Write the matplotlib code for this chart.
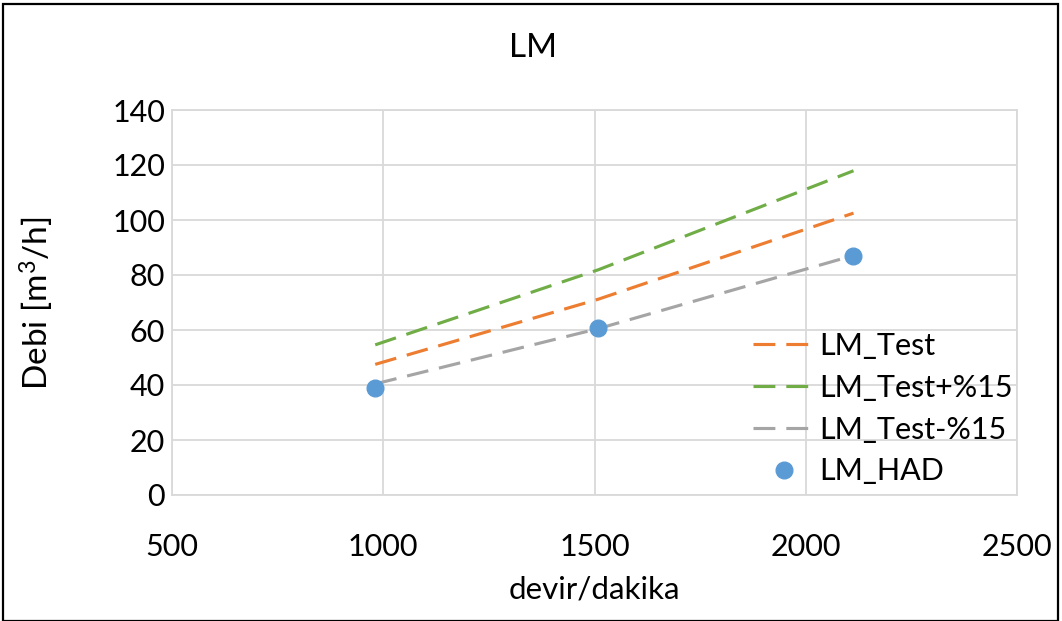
import matplotlib
matplotlib.use("Agg")
import matplotlib.pyplot as plt
from matplotlib.patches import Rectangle

plt.rcParams['font.family'] = ['Lato', 'DejaVu Sans']
plt.rcParams['mathtext.default'] = 'regular'

# data
rpm = [981, 1509, 2113]
lm_test = [47.5, 71.2, 102.5]
lm_plus = [54.6, 81.9, 117.9]
lm_minus = [40.4, 60.5, 87.1]
lm_had = [39.0, 60.7, 86.9]

xticks = [500, 1000, 1500, 2000, 2500]
yticks = [0, 20, 40, 60, 80, 100, 120, 140]

fig = plt.figure(figsize=(10.62, 6.21), dpi=100)
ax = fig.add_axes([172/1062, 1 - 495/621, (1017-172)/1062, (495-110)/621])

dash = (0, (7, 3.5))
ax.plot(rpm, lm_test, color='#ED7D31', lw=2.25, linestyle=dash, label='LM_Test', zorder=3)
ax.plot(rpm, lm_plus, color='#70AD47', lw=2.25, linestyle=dash, label='LM_Test+%15', zorder=3)
ax.plot(rpm, lm_minus, color='#A5A5A5', lw=2.25, linestyle=dash, label='LM_Test-%15', zorder=3)
ax.plot(rpm, lm_had, 'o', color='#5B9BD5', ms=12, label='LM_HAD', zorder=4)

ax.set_xlim(500, 2500)
ax.set_ylim(0, 140)
ax.set_xticks(xticks)
ax.set_yticks(yticks)
ax.grid(True, color='#D9D9D9', lw=1.3)
ax.set_axisbelow(True)
for s in ax.spines.values():
    s.set_color('#D9D9D9')
    s.set_linewidth(1.3)
ax.tick_params(length=0, labelsize=22, colors='black')
ax.tick_params(axis='x', pad=27)
ax.tick_params(axis='y', pad=5)

fig.text(594/1062, 1 - 590/621, 'devir/dakika', fontsize=22.5, ha='center', va='center')
fig.text(37/1062, 1 - 303/621, 'Debi [m$^3$/h]', fontsize=24, ha='center', va='center',
         rotation=90)
fig.text(533/1062, 1 - 48/621, 'LM', fontsize=24, ha='center', va='center')

leg = ax.legend(loc='lower right', bbox_to_anchor=(1.0, 0.013), frameon=False,
                fontsize=22, handlelength=2.0, handletextpad=0.15,
                labelspacing=0.45, borderpad=0.15, borderaxespad=0.0)

# outer chart border
fig.patches.append(Rectangle((3/1062, 0), 1 - 7/1062, 1 - 4/621, transform=fig.transFigure,
                             fill=False, edgecolor='black', lw=1.6))

fig.savefig('out.png', dpi=100)
